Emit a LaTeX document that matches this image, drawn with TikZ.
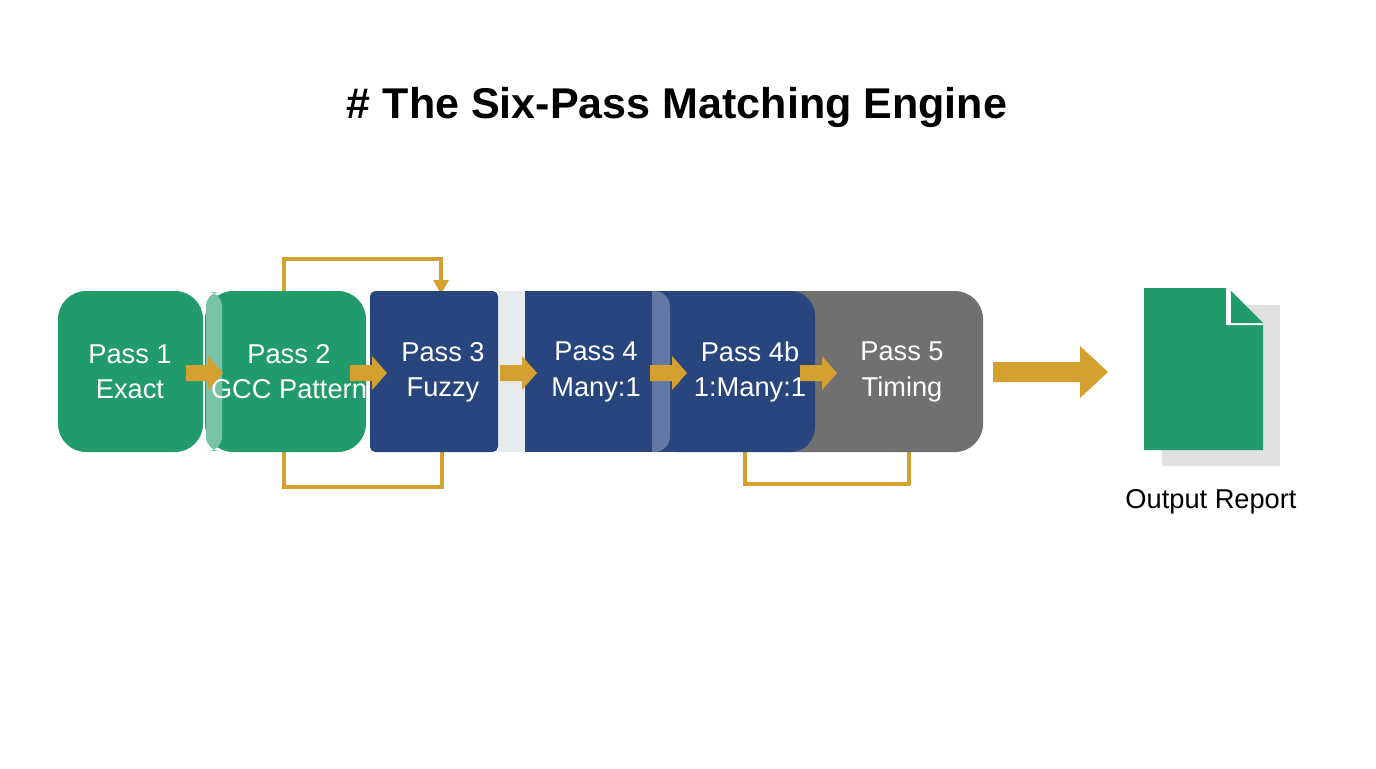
\documentclass[tikz,border=0pt]{standalone}
\usepackage{fontspec}
\setmainfont{Liberation Sans}
\begin{document}
\begin{tikzpicture}[x=0.02cm,y=-0.02cm,
  lbl/.style={text=white,font=\fontsize{15.5}{20}\selectfont,align=center},
  loop/.style={draw=gold,line width=2.2pt}]
\definecolor{grn}{RGB}{33,155,107}
\definecolor{grnl}{RGB}{120,195,165}
\definecolor{navy}{RGB}{40,70,125}
\definecolor{navyl}{RGB}{100,120,165}
\definecolor{gry}{RGB}{112,112,112}
\definecolor{gold}{RGB}{212,160,48}
\definecolor{strip}{RGB}{232,235,238}
\useasboundingbox (0,0) rectangle (1376,768);
\node[font=\bfseries\fontsize{24.5}{29}\selectfont] (title) at (677,107) {\# The Six-Pass Matching Engine};
% loops behind
\draw[loop] (284,300) -- (284,259) -- (441,259) -- (441,282);
\fill[gold] (433,280) -- (449,280) -- (441,294) -- cycle;
\draw[loop] (284,440) -- (284,487) -- (442,487) -- (442,440);
\draw[loop] (745,440) -- (745,484) -- (909,484) -- (909,440);
% boxes
\fill[gry,rounded corners=16pt] (760,291) rectangle (983,452);
\fill[navy,rounded corners=14pt] (650,291) rectangle (815,452);
\fill[navy] (650,291) rectangle (700,452);
\fill[navyl,rounded corners=9pt] (640,291) rectangle (670,452);
\fill[navy] (525,291) rectangle (652,452);
\fill[strip] (498,291) rectangle (525,452);
\fill[navy,rounded corners=3pt] (370,291) rectangle (498,452);
\fill[grn,rounded corners=16pt] (205,291) rectangle (366,452);
\fill[grnl,rounded corners=8pt] (206,292) rectangle (222,451);
\fill[grn,rounded corners=16pt] (58,291) rectangle (203,452);
\node[lbl] (p1) at (130,372) {Pass 1\\Exact};
\node[lbl] (p2) at (289,372) {Pass 2\\GCC Pattern};
\node[lbl] (p3) at (443,372) {Pass 3\\Fuzzy};
\node[lbl] (p4) at (596,372) {Pass 4\\Many:1};
\node[lbl] (p4b) at (750,372) {Pass 4b\\1:Many:1};
\node[lbl] (p5) at (902,372) {Pass 5\\Timing};
% small arrows
\foreach \x in {186,350,500,650,800}{
  \fill[gold] (\x,365) -- (\x+22,365) -- (\x+22,356) -- (\x+37,373) -- (\x+22,390) -- (\x+22,381) -- (\x,381) -- cycle;}
% big arrow
\fill[gold] (993,362) -- (1080,362) -- (1080,346) -- (1108,372) -- (1080,398) -- (1080,382) -- (993,382) -- cycle;
% document
\fill[black!12] (1162,305) rectangle (1280,466);
\fill[grn] (1144,288) -- (1226,288) -- (1263,325) -- (1263,450) -- (1144,450) -- cycle;
\fill[white] (1226,288) -- (1263,325) -- (1226,325) -- cycle;
\fill[grn] (1231,291) -- (1231,323) -- (1263,323)-- cycle;
\node[font=\fontsize{15.5}{20}\selectfont] (out) at (1211,502) {Output Report};
\end{tikzpicture}
\end{document}
